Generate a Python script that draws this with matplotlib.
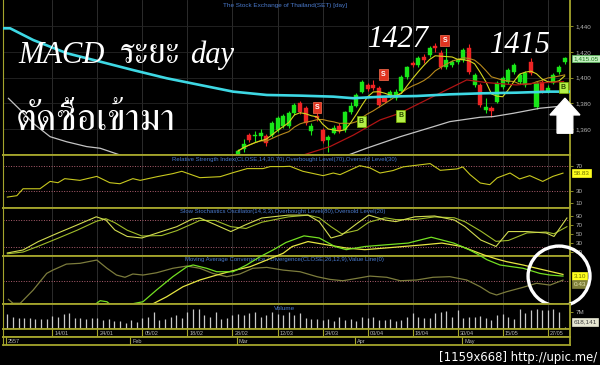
import numpy as np
import pandas as pd
import matplotlib
matplotlib.use("Agg")
import matplotlib.pyplot as plt
from matplotlib import font_manager as fm
from matplotlib.ft2font import FT2Font
from matplotlib.patches import Ellipse, FancyArrow
import matplotlib.transforms as mtransforms

# ---------------- data ----------------
n_days = 100
date_tick_idx = [8, 16, 24, 32, 40, 48, 56, 64, 72, 80, 88, 96]
date_tick_labels = ['14/01', '24/01', '05/02', '18/02', '28/02', '12/03',
                    '24/03', '03/04', '18/04', '30/04', '15/05', '27/05']
month_idx = [0, 22, 41, 62, 81]
month_labels = ['2557', 'Feb', 'Mar', 'Apr', 'May']

candle_idx = list(range(41, 100))
c_open = [1340.0, 1344.7, 1355.5, 1354.5, 1354.8, 1354.7, 1355.5, 1359.4, 1362.5, 1362.4,
          1372.6, 1380.4, 1376.5, 1358.7, 1370.0, 1359.5, 1351.7, 1357.1, 1362.5, 1359.5,
          1373.4, 1378.1, 1389.0, 1394.4, 1394.4, 1392.1, 1384.3, 1385.1, 1384.3, 1389.7,
          1400.6, 1411.5, 1409.9, 1416.1, 1417.7, 1424.7, 1419.2, 1408.4, 1409.9, 1412.3,
          1413.8, 1423.1, 1394.4, 1394.4, 1375.0, 1376.5, 1381.2, 1392.8, 1396.7, 1404.5,
          1396.7, 1394.4, 1412.3, 1377.3, 1396.9, 1389.7, 1396.0, 1404.5, 1412.3]
c_close = [1343.1, 1348.5, 1351.7, 1354.9, 1357.0, 1349.3, 1364.9, 1368.8, 1370.3, 1372.6,
           1378.9, 1373.4, 1364.9, 1362.5, 1368.5, 1350.9, 1354.0, 1361.0, 1358.7, 1373.4,
           1378.1, 1386.6, 1396.7, 1391.3, 1392.1, 1378.9, 1381.2, 1389.0, 1389.0, 1400.6,
           1408.4, 1409.9, 1415.4, 1413.8, 1423.1, 1423.1, 1408.4, 1413.8, 1412.3, 1413.8,
           1421.6, 1404.5, 1402.1, 1378.9, 1377.3, 1374.2, 1396.0, 1399.8, 1406.1, 1409.9,
           1402.1, 1403.7, 1403.7, 1395.9, 1389.2, 1392.1, 1402.1, 1408.4, 1415.05]
c_high = [1345.0, 1352.4, 1357.0, 1358.5, 1360.0, 1356.0, 1366.0, 1370.0, 1371.5, 1374.0,
          1380.0, 1382.0, 1378.0, 1364.9, 1372.5, 1361.0, 1355.5, 1363.0, 1364.5, 1374.5,
          1381.0, 1388.0, 1398.0, 1396.0, 1398.3, 1393.5, 1386.0, 1390.5, 1391.0, 1402.0,
          1409.5, 1413.0, 1417.0, 1418.5, 1424.5, 1427.0, 1421.5, 1423.1, 1414.0, 1415.5,
          1423.0, 1426.5, 1403.5, 1396.0, 1384.3, 1378.0, 1397.5, 1401.0, 1407.5, 1411.5,
          1403.5, 1405.0, 1415.0, 1397.5, 1398.0, 1394.0, 1403.5, 1410.0, 1416.0]
c_low = [1338.0, 1342.3, 1350.0, 1349.8, 1352.0, 1347.0, 1354.0, 1358.0, 1361.0, 1361.0,
         1371.0, 1372.0, 1363.0, 1355.5, 1366.0, 1349.0, 1342.3, 1356.0, 1357.0, 1358.0,
         1372.0, 1377.0, 1388.0, 1390.0, 1390.5, 1377.5, 1380.0, 1384.0, 1383.0, 1389.0,
         1399.0, 1408.0, 1408.5, 1411.5, 1416.0, 1420.0, 1407.0, 1407.0, 1408.5, 1411.0,
         1412.5, 1403.0, 1393.0, 1377.0, 1372.6, 1369.5, 1380.0, 1391.5, 1395.5, 1403.0,
         1395.5, 1393.0, 1402.0, 1375.5, 1388.0, 1388.0, 1395.0, 1403.0, 1411.0]

cyan_idx = [-0.8, 0.5, 4.6, 10.6, 16.5, 22.3, 28.3, 34.2, 40.1, 46.1, 52, 57.9, 61.4,
            66.7, 72.7, 78.6, 84.5, 90.5, 96.4, 99.9]
cyan_val = [1438.4, 1438.4, 1429.3, 1419.0, 1412.5, 1406.0, 1399.6, 1394.4, 1389.2, 1386.6,
            1386.1, 1385.3, 1384.1, 1385.3, 1385.8, 1387.1, 1387.9, 1388.4, 1389.2, 1389.2]
white_idx = [0.2, 2.3, 4.6, 7.6, 10.5, 14.1, 16.5, 20, 24, 40, 57, 60.6, 63.8, 69.8, 75.7,
             78.6, 84, 86.3, 89.9, 94.6, 98.8]
white_val = [1384.0, 1375.0, 1364.6, 1354.2, 1350.3, 1346.5, 1345.2, 1340.0, 1334.0, 1322.0,
             1334.0, 1340.0, 1345.2, 1354.2, 1362.0, 1365.9, 1369.3, 1369.8, 1372.4, 1376.3,
             1378.1]
red_idx = [45, 52.6, 57.3, 61.5, 66.2, 69.7, 75.6, 80.4, 81.6, 85.2, 90.5, 93.4, 98.8]
red_val = [1330.0, 1340.0, 1346.5, 1355.5, 1367.2, 1372.4, 1385.3, 1395.7, 1398.3, 1396.2,
           1394.4, 1395.7, 1397.0]

signal_idx = [55, 62.9, 66.8, 69.9, 77.7, 98.8]
signal_val = [1376.7, 1366.0, 1402.7, 1370.3, 1428.9, 1392.1]
signal_txt = ['S', 'B', 'S', 'B', 'S', 'B']

volume_m = [6.2, 4.8, 4.7, 4.5, 4.4, 4.2, 4.1, 4.1, 5.5, 5.1, 6.0, 6.4, 4.5, 4.4, 4.1, 4.4,
            4.4, 3.8, 4.2, 3.3, 3.4, 2.5, 3.7, 3.0, 4.5, 4.9, 6.9, 3.8, 4.0, 5.1, 5.6, 4.5,
            7.0, 8.1, 8.2, 5.6, 5.1, 7.1, 4.2, 4.7, 5.8, 6.0, 5.6, 6.7, 6.9, 4.9, 5.6, 7.0,
            6.0, 5.9, 7.1,
            5.8, 6.4, 4.4, 4.1, 4.1, 3.6, 4.1, 3.2, 5.1, 3.7, 4.2, 3.4, 5.1, 4.4, 5.1, 3.7,
            3.7, 4.1, 3.4, 3.6, 5.1, 6.7, 5.1, 4.4, 4.5, 6.7, 7.1, 7.3, 5.1, 7.8, 4.4, 5.1,
            5.1, 5.2, 4.4, 3.7, 5.8, 6.2, 5.1, 4.1, 8.2, 6.4, 7.8, 8.2, 7.8, 7.8, 8.1, 7.1,
            0.618141]

rsi_idx = [0, 1.7, 2.8, 5.8, 7.6, 9, 10.2, 12.9, 15.9, 18.2, 20, 22.3, 23.6, 26.6, 29.4,
           31, 34.2, 37.8, 40.1, 42.6, 45.4, 46.7, 49, 50.2, 52.5, 56.1, 57.9, 59.1, 62.6,
           64.4, 66.2, 68.5, 70.3, 75.1, 76.9, 79.9, 80.9, 82.2, 84, 85.7, 87, 89.3, 91,
           92.8, 95.1, 96.9, 98.7]
rsi_val = [19.7, 22, 33.3, 33.3, 45.3, 43.2, 49.8, 47, 53.5, 43.2, 41.5, 49.8, 47, 53, 58,
           61.8, 51.4, 53, 59.6, 66.2, 66.2, 69.5, 69.5, 70, 61.8, 54.7, 59, 56.3, 71, 67.4,
           59, 63, 69, 74.4, 63.4, 65.7, 69, 56.3, 42.7, 40, 51, 59, 49.3, 54.7, 45.3,
           53.5, 58.83]

stoch_idx = [0, 2.8, 5.5, 9, 12.4, 15.8, 17.5, 19.1, 21.3, 23.9, 27.4, 30.1, 32.8, 34.2,
             36.9, 39.7, 42.4, 45.2, 49.9, 53.4, 55.4, 57.5, 59.4, 62.2, 64.2, 67.1, 69.0,
             72.4, 75.9, 79.4, 81.3, 84.1, 86.8, 89, 92.3, 95.7, 97.1, 99.4]
stoch_k = [6.9, 13.6, 32.5, 51.8, 69.8, 88.2, 81, 58.5, 44, 40.6, 55, 66, 83, 85.5, 70.7,
           55, 70.7, 85.5, 92, 92, 77.4, 40.6, 47.3, 74, 92, 81, 77.4, 88.2, 90, 81, 66, 36,
           21.5, 55, 55, 51.8, 44, 85.5]
stoch_d = [5, 9, 22, 40, 58, 78, 84, 75, 58, 45, 46, 57, 72, 80, 80, 66, 62, 76, 88, 92,
           86, 66, 50, 58, 76, 86, 82, 82, 88, 86, 77, 56, 33, 35, 52, 54, 50, 66]

macd_idx = [0.2, 1, 2.3, 4.6, 7, 8.1, 10.5, 12.9, 15.9, 17.7, 19.4, 20.9, 22.3, 24.1, 26.5,
            29.4, 31.9, 34.2, 36.5, 39, 41.3, 43.6, 46.1, 49, 52, 55, 57.3, 59.6, 62.1,
            64.4, 67.4, 69.8, 72.7, 75.6, 78.6, 81.6, 84, 85.7, 86.9, 88.7, 91.6, 94, 96.4,
            98.7]
macd_val = [-12.4, -15, -15, -6.2, 4.9, 7.1, 11.1, 11.6, 13.8, 8.3, 3.8, 2.3, 4.5, 3.8, 5.3,
            8.3, 9.8, 8.3, 4.9, 2.7, 4.5, 8.3, 8.9, 7.1, 6.0, 2.7, 0.9, 0.0, 1.6, 3.1, 2.3,
            0.0, 0.5, 2.3, 2.7, 0.5, -4.0, -8.0, -9.5, -7.3, -4.4, -1.7, -2.9, 0.43]
green_idx = [0, 14, 15.5, 16.5, 17.7, 18.5, 20, 22.3, 24.1, 26.5, 29.4, 31.9, 33, 35.4,
             37.2, 40.1, 42.5, 44.9, 47.2, 49.5, 52.7, 55.4, 58.2, 60.2, 63.5, 67.1, 71.2,
             75.3, 79.3, 82, 83.4, 85.2, 87.5, 91.6, 94.6, 96.4, 98.7]
green_val = [-30, -18, -16, -13.3, -14, -16.5, -18, -15.3, -14, -6.2, 2.7, 9.3, 10.5, 8.3,
             6, 6, 10.5, 16, 20.5, 25.5, 29.9, 28.5, 22.8, 20.7, 22.8, 23.9, 25.1, 29, 25.1,
             20.7, 18, 14, 10.5, 8.3, 4.9, 3.8, 3.1]
yellow_idx = [0, 20, 25.9, 28.3, 31.2, 34.2, 37.2, 40.1, 43.1, 46.1, 49, 50.6, 53.4, 56.8,
              60.2, 63.5, 67.1, 73.8, 77.2, 80.7, 84.8, 86.9, 88.7, 91.6, 94.6, 96.9, 98.7]
yellow_val = [-35, -24, -15.3, -10.7, -4, 0.5, 3.8, 6.7, 9.3, 13.8, 18.3, 22.8, 26.1, 23.9,
              21.8, 20.7, 21.8, 23.9, 25.1, 22.8, 17, 14.5, 12.7, 10.5, 7.8, 5.8, 4.2]

price_ticks = [1360, 1380, 1400, 1420, 1440]
rsi_ticks = [10, 30, 70]
stoch_ticks = [10, 30, 50, 70, 90]

# ---------------- fonts ----------------
def thai_families():
    found = []
    for f in fm.fontManager.ttflist:
        try:
            cm = FT2Font(f.fname).get_charmap()
        except Exception:
            continue
        if 0x0E23 in cm and f.name not in found:
            found.append(f.name)
    found.sort(key=lambda n: (0 if 'Serif' in n else 1))
    return found

THAI = thai_families()
plt.rcParams['font.family'] = ['Liberation Sans', 'DejaVu Sans']

# ---------------- layout ----------------
W, H = 600, 365
OLIVE = '#a4a42c'
GRID = '#333333'
TICKC = '#b4b4b4'
GREEN = '#19e619'
RED = '#ee2424'
BLUE = '#4a7acc'
X0PX, DXPX = 7.3, 5.63
XL, XR = 3, 570
XLIM = ((XL - X0PX) / DXPX, (XR - X0PX) / DXPX)

fig = plt.figure(figsize=(6, 3.65), dpi=100, facecolor='black')


def rect(x0, y0, x1, y1):
    return [x0 / W, 1 - y1 / H, (x1 - x0) / W, (y1 - y0) / H]


def panel(y0, y1, grid=True):
    ax = fig.add_axes(rect(XL, y0, XR, y1), facecolor='black')
    ax.set_xlim(*XLIM)
    for s in ['top', 'bottom', 'right', 'left']:
        ax.spines[s].set_color(OLIVE)
        ax.spines[s].set_linewidth(1.3 if s != 'left' else 0.8)
    ax.yaxis.tick_right()
    ax.tick_params(axis='y', color=OLIVE, labelcolor=TICKC, labelsize=4.5,
                   length=2, width=0.6, pad=2)
    ax.tick_params(axis='x', bottom=False, labelbottom=False)
    if grid:
        for t in date_tick_idx:
            ax.axvline(t, color=GRID, lw=0.6, zorder=0)
    return ax


def tag(ax, yval, text, fc, tc, ec=None):
    tr = mtransforms.blended_transform_factory(ax.transAxes, ax.transData)
    ax.text(1.006, yval, text, transform=tr, ha='left', va='center', fontsize=4.6,
            color=tc, clip_on=False, zorder=10,
            bbox=dict(boxstyle='square,pad=0.2', fc=fc, ec=ec or fc, lw=0.5))


def fx(px):
    return (px - XL) / (XR - XL)


# ---- price panel ----
axp = panel(0, 154.7)
axp.set_ylim(1340.2, 1460.4)
axp.set_yticks(price_ticks)
axp.set_yticklabels([f'{v:,}' for v in price_ticks])
for v in price_ticks:
    axp.axhline(v, color='#262626', lw=0.6, zorder=0)
axp.spines['top'].set_visible(False)

o = np.array(c_open); c = np.array(c_close)
hi = np.array(c_high); lo = np.array(c_low)
cols = np.where(c >= o, GREEN, RED)
axp.vlines(candle_idx, lo, hi, colors=cols, lw=0.8, zorder=3)
axp.bar(candle_idx, np.maximum(np.abs(c - o), 0.9), bottom=np.minimum(o, c), width=0.72,
        color=cols, edgecolor=cols, linewidth=0.3, zorder=4)

close_s = pd.Series(c_close, index=candle_idx)
axp.plot(candle_idx, close_s.rolling(10, min_periods=1).mean(), color='#b88a1c', lw=0.8, zorder=5)
axp.plot(candle_idx, close_s.rolling(5, min_periods=1).mean(), color='#d6d61e', lw=0.8, zorder=5)
axp.plot(white_idx, white_val, color='#c4c4c4', lw=0.9, zorder=5)
axp.plot(red_idx, red_val, color='#b01414', lw=0.9, zorder=5)
axp.plot(cyan_idx, cyan_val, color='#3ed8e4', lw=1.9, zorder=6)

for xi, yv, s in zip(signal_idx, signal_val, signal_txt):
    if s == 'S':
        axp.text(xi, yv, s, ha='center', va='center', fontsize=5, color='white',
                 fontweight='bold', zorder=8,
                 bbox=dict(boxstyle='square,pad=0.3', fc='#e03420', ec='#ff7050', lw=0.5))
    else:
        axp.text(xi, yv, s, ha='center', va='center', fontsize=5, color='#2a4a00',
                 fontweight='bold', zorder=8,
                 bbox=dict(boxstyle='square,pad=0.3', fc='#b4f048', ec='#78b000', lw=0.5))

tag(axp, c_close[-1], f'{c_close[-1]:,.2f}', '#c4f0c0', '#1d7a1d', '#60c060')

axp.text(fx(285), 1 - 6 / 154.7, 'The Stock Exchange of Thailand(SET) [day]',
         transform=axp.transAxes, ha='center', va='center', fontsize=4.6, color=BLUE)

serif_it = ['Liberation Serif'] + THAI + ['DejaVu Serif']
thai_fam = THAI + ['DejaVu Serif']
base1 = 1 - 63.3 / 154.7
axp.text(fx(18), base1, 'MACD', transform=axp.transAxes, ha='left', va='baseline',
         fontsize=22, color='white', style='italic', family=serif_it, zorder=9)
axp.text(fx(120), base1, 'ระยะ', transform=axp.transAxes, ha='left', va='baseline',
         fontsize=25, color='white', family=thai_fam, zorder=9)
axp.text(fx(190), base1, 'day', transform=axp.transAxes, ha='left', va='baseline',
         fontsize=22, color='white', style='italic', family=serif_it, zorder=9)
axp.text(fx(16), 1 - 130 / 154.7, 'ตัดซื้อเข้ามา', transform=axp.transAxes,
         ha='left', va='baseline', fontsize=27.5, color='white', family=thai_fam, zorder=9)
axp.text(fx(368), 1 - 46.7 / 154.7, '1427', transform=axp.transAxes,
         ha='left', va='baseline', fontsize=22, color='white', style='italic',
         family=['Liberation Serif', 'DejaVu Serif'], zorder=9)
axp.text(fx(490), 1 - 53.3 / 154.7, '1415', transform=axp.transAxes,
         ha='left', va='baseline', fontsize=22, color='white', style='italic',
         family=['Liberation Serif', 'DejaVu Serif'], zorder=9)

arrow = FancyArrow(99.05, 1356.9, 0, 27.2, width=2.79, head_width=5.33, head_length=13.0,
                   length_includes_head=True, color='white', clip_on=False, zorder=9)
axp.add_patch(arrow)

# ---- RSI panel ----
axr = panel(154.7, 207.5)
axr.set_ylim(2.7, 88.9)
axr.set_yticks(rsi_ticks)
for v in (30, 70):
    axr.axhline(v, color='#b06070', lw=0.7, ls=(0, (1, 1.6)), zorder=1)
axr.plot(rsi_idx, rsi_val, color='#c8c81e', lw=0.8, zorder=3)
axr.text(0.497, 1 - 4.5 / 52.8,
         'Relative Strength Index(CLOSE,14,30,70),Overbought Level(70),Oversold Level(30)',
         transform=axr.transAxes, ha='center', va='center', fontsize=4.3, color=BLUE)
tag(axr, rsi_val[-1], f'{rsi_val[-1]:.2f}', '#ffff1e', '#707000')

# ---- Stochastic panel ----
axs = panel(207.5, 255.5)
axs.set_ylim(1.2, 109.1)
axs.set_yticks(stoch_ticks)
for v in (20, 80):
    axs.axhline(v, color='#b06070', lw=0.7, ls=(0, (1, 1.6)), zorder=1)
axs.plot(stoch_idx, stoch_d, color='#a0bc2a', lw=0.8, zorder=3)
axs.plot(stoch_idx, stoch_k, color='#d2dc50', lw=0.8, zorder=3)
axs.text(0.494, 1 - 4.5 / 48,
         'Slow Stochastics Oscillator(14,3,3),Overbought Level(80),Oversold Level(20)',
         transform=axs.transAxes, ha='center', va='center', fontsize=4.3, color=BLUE)

# ---- MACD panel ----
axm = panel(255.5, 304)
axm.set_ylim(-15.5, 16.8)
axm.set_yticks([])
axm.axhline(0, color='#b06070', lw=0.7, ls=(0, (1, 1.6)), zorder=1)
axm.text(0.497, 1 - 4.5 / 48.5,
         'Moving Average Convergence / Divergence(CLOSE,26,12,9),Value Line(0)',
         transform=axm.transAxes, ha='center', va='center', fontsize=4.3, color=BLUE)

axmx = fig.add_axes(rect(XL, 207.5, XR, 304))
axmx.set_xlim(*XLIM)
axmx.set_ylim(-15.5, 48.8)
axmx.axis('off')
axmx.patch.set_alpha(0)
axmx.plot(macd_idx, macd_val, color='#7c7c3c', lw=0.9)
axmx.plot(yellow_idx, yellow_val, color='#e6e642', lw=0.9)
axmx.plot(green_idx, green_val, color='#74e022', lw=0.9)
tag(axmx, 3.1, '3.10', '#ffff1e', '#707000')
tag(axmx, -2.3, f'{macd_val[-1]:.2f}', '#80803a', '#e4e4b0')
axmx.add_patch(Ellipse((98.0, 3.1), 11.0, 40.0, fill=False, ec='white', lw=2.4,
                       clip_on=False, zorder=12))

# ---- Volume panel ----
axv = panel(304, 329)
axv.set_ylim(0, 10.3)
axv.set_yticks([7])
axv.set_yticklabels(['7M'])
axv.vlines(np.arange(n_days), 0, volume_m, color='#c8c8c8', lw=0.9, zorder=3)
axv.text(0.497, 0.8, 'Volume', transform=axv.transAxes, ha='center', va='center',
         fontsize=4.6, color=BLUE)
tag(axv, 2.9, f'{volume_m[-1] * 1e6:,.0f}', '#e6e6d2', '#404040')

# ---- date rows ----
axd = panel(329, 337, grid=False)
axd.set_ylim(0, 1)
axd.set_yticks([])
for t, lab in zip(date_tick_idx, date_tick_labels):
    axd.axvline(t, color=OLIVE, lw=0.8)
    axd.text(t + 0.35, 0.45, lab, fontsize=4.0, color=TICKC, ha='left', va='center')

axo = panel(337, 344.5, grid=False)
axo.set_ylim(0, 1)
axo.set_yticks([])
for t, lab in zip(month_idx, month_labels):
    axo.axvline(t - 0.2, color=OLIVE, lw=0.8)
    axo.text(t + 0.15, 0.45, lab, fontsize=4.0, color=TICKC, ha='left', va='center')

fig.text(597 / W, 1 - 361 / H, '[1159x668] http://upic.me/', ha='right', va='baseline',
         color='white', fontsize=8.4, family=['DejaVu Sans'])

fig.savefig('out.png', dpi=100, facecolor='black')
